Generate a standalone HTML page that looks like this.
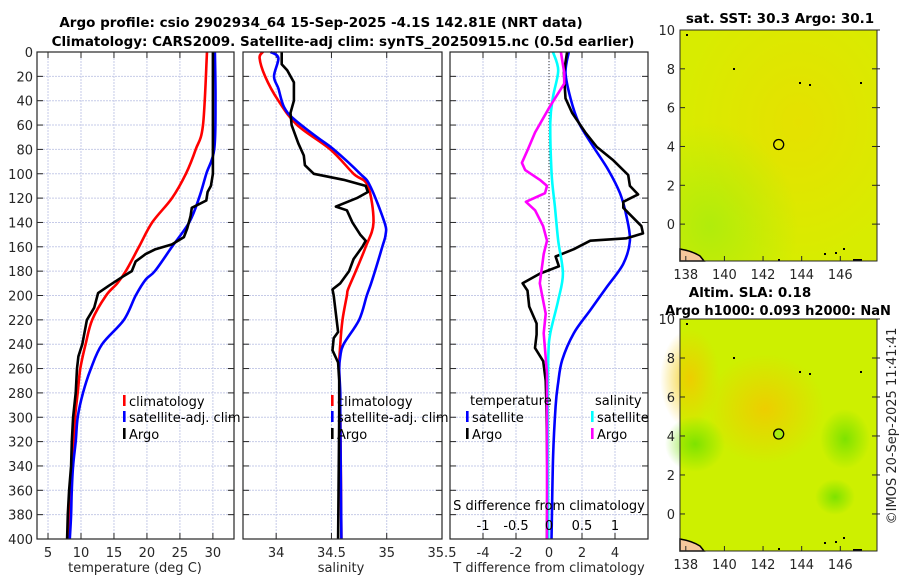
<!DOCTYPE html>
<html><head><meta charset="utf-8"><style>
html,body{margin:0;padding:0;background:#fff;width:900px;height:580px;overflow:hidden}
svg{display:block;font-family:"DejaVu Sans","Liberation Sans",sans-serif}
</style></head><body>
<svg id="fig" width="900" height="580" viewBox="0 0 900 580">
<defs>
<radialGradient id="sstOr" cx="0.6" cy="0.4" r="0.6"><stop offset="0" stop-color="#f0d800" stop-opacity="0.55"/><stop offset="1" stop-color="#f0d800" stop-opacity="0"/></radialGradient>
<radialGradient id="sstGr" cx="0.15" cy="0.85" r="0.45"><stop offset="0" stop-color="#a0ec10" stop-opacity="0.7"/><stop offset="1" stop-color="#a0ec10" stop-opacity="0"/></radialGradient>
<radialGradient id="slaOr" cx="0.5" cy="0.5" r="0.5"><stop offset="0" stop-color="#f2c800" stop-opacity="0.85"/><stop offset="1" stop-color="#f2c800" stop-opacity="0"/></radialGradient>
<radialGradient id="slaGr" cx="0.5" cy="0.5" r="0.5"><stop offset="0" stop-color="#70e000" stop-opacity="0.85"/><stop offset="1" stop-color="#70e000" stop-opacity="0"/></radialGradient>
</defs>
</svg>
<script>
// ---- data: depth in m ----
const tClimDepth=[0,60,80,100,120,140,160,180,190,200,220,240,260,280,300,320,340,360,380,400];
const tClimVal=[29.1,28.5,27.4,25.9,23.8,20.8,18.8,16.8,15.5,13.8,11.7,10.7,9.9,9.5,9.1,8.9,8.6,8.5,8.3,8.2];
const tSatDepth=[0,40,80,100,120,140,160,180,187,200,220,240,260,280,300,320,340,360,380,400];
const tSatVal=[30.3,30.4,30.2,29.0,27.9,26.4,23.8,21.2,19.8,18.3,16.5,13.2,11.5,10.3,9.5,9.2,8.8,8.6,8.5,8.3];
const tArgoDepth=[0,80,100,110,115,122,128,135,145,152,158,162,166,172,180,185,192,198,210,220,240,250,260,280,300,320,340,360,380,400];
const tArgoVal=[30,30,30,29.7,29.2,29,26.8,26.6,26.1,25.6,23.8,21.3,19.8,18.3,17.7,16.2,14.2,12.6,12.0,10.9,10.2,9.6,9.4,9.2,8.8,8.6,8.5,8.2,8.0,7.9];
const sClimDepth=[0,5,20,40,60,80,100,110,140,160,180,195,200,220,240,260,300,400];
const sClimVal=[33.88,33.85,33.9,34.02,34.19,34.49,34.70,34.83,34.88,34.81,34.72,34.65,34.64,34.6,34.58,34.57,34.58,34.59];
const sSatDepth=[0,5,20,30,45,55,70,80,100,110,140,150,160,187,200,220,240,250,260,280,300,400];
const sSatVal=[33.95,34.02,33.98,34.02,34.07,34.16,34.37,34.52,34.76,34.85,34.98,34.99,34.96,34.87,34.82,34.75,34.61,34.58,34.57,34.58,34.58,34.59];
const sArgoDepth=[0,10,15,25,40,50,60,75,85,93,100,105,110,115,120,127,130,140,150,155,160,170,180,190,195,200,215,230,235,245,255,270,300,400];
const sArgoVal=[34.05,34.05,34.1,34.16,34.16,34.13,34.14,34.2,34.25,34.26,34.34,34.61,34.81,34.83,34.73,34.54,34.64,34.69,34.76,34.81,34.78,34.7,34.66,34.58,34.51,34.52,34.54,34.56,34.52,34.51,34.56,34.57,34.57,34.56];
const dTSatDepth=[0,17,38,58,78,97,116,135,155,174,193,212,231,253,272,291,332,400];
const dTSatVal=[1.2,1.0,1.3,1.8,2.7,3.6,4.3,4.7,4.9,4.5,3.5,2.5,1.5,0.8,0.55,0.4,0.25,0.15];
const dTArgoDepth=[0,17,38,50,66,78,89,101,110,117,123,128,143,149,153,155,162,168,176,182,190,196,209,223,232,243,254,270,292,347,400];
const dTArgoVal=[1.1,0.9,1.0,1.4,2.2,2.9,3.9,4.8,4.9,5.4,4.5,4.5,5.6,5.7,4.7,2.5,1.5,0.4,0.6,-0.55,-1.6,-1.3,-1.2,-0.75,-0.75,-0.85,-0.35,-0.2,-0.15,-0.1,-0.12];
const dSSatDepth=[0,15,37,58,100,127,155,182,204,231,250,300,400];
const dSSatVal=[0.06,0.14,0.06,0.02,0.04,0.09,0.14,0.21,0.14,0.02,-0.01,-0.02,-0.01];
const dSArgoDepth=[0,17,26,45,66,80,91,97,105,110,116,123,130,143,155,166,190,215,231,264,400];
const dSArgoVal=[0.18,0.23,0.23,0.01,-0.21,-0.32,-0.41,-0.36,-0.14,-0.03,-0.06,-0.35,-0.21,-0.09,-0.03,-0.08,-0.14,-0.05,-0.08,-0.03,-0.03];
const depthTicks=[0,20,40,60,80,100,120,140,160,180,200,220,240,260,280,300,320,340,360,380,400];
const tTicks=[5,10,15,20,25,30];
const sTicks=[34,34.5,35,35.5];
const sTickLabels=["34","34.5","35","35.5"];
const dTTicks=[-4,-2,0,2,4];
const dSTicks=[-1,-0.5,0,0.5,1];
const dSTickLabels=["-1","-0.5","0","0.5","1"];
const lonTicks=[138,140,142,144,146];
const latTicks=[10,8,6,4,2,0];

const NS="http://www.w3.org/2000/svg";
const svg=document.getElementById('fig');
function el(tag,attrs,parent){const e=document.createElementNS(NS,tag);for(const k in attrs)e.setAttribute(k,attrs[k]);(parent||svg).appendChild(e);return e;}
function txt(s,x,y,attrs,parent){const e=el('text',Object.assign({x:x,y:y,'font-size':13,fill:'#262626'},attrs||{}),parent);e.textContent=s;return e;}

const Y0=52,Y1=539;
const yD=d=>Y0+(Y1-Y0)*d/400;
function lin(d0,d1,p0,p1){return v=>p0+(v-d0)*(p1-p0)/(d1-d0);}
const P1={x0:37,x1:234,f:lin(3.33,33.2,37,234)};
const P2={x0:243,x1:442,f:lin(33.7,35.5,243,442)};
const P3={x0:450,x1:648,fT:lin(-6,6,450,648),fS:lin(-1.5,1.5,450,648)};

function panel(P,name,ticks,fx,labels){
  const g=el('g',{});
  
  
  depthTicks.forEach(d=>{el('line',{x1:P.x0,x2:P.x1,y1:yD(d),y2:yD(d),stroke:'#c6cbe8','stroke-width':1,'stroke-dasharray':'2,1'},g);
    el('line',{x1:P.x0,x2:P.x0+6,y1:yD(d),y2:yD(d),stroke:'#262626'},g);
    el('line',{x1:P.x1-6,x2:P.x1,y1:yD(d),y2:yD(d),stroke:'#262626'},g);});
  ticks.forEach((t,i)=>{const x=fx(t);
    el('line',{x1:x,x2:x,y1:Y0,y2:Y1,stroke:'#c6cbe8','stroke-width':1,'stroke-dasharray':'2,1'},g);
    el('line',{x1:x,x2:x,y1:Y1-6,y2:Y1,stroke:'#262626'},g);
    el('line',{x1:x,x2:x,y1:Y0,y2:Y0+6,stroke:'#262626'},g);
    if(labels){const l=txt(labels[i],x,Y1+18,{'text-anchor':'middle'},g);
      
      }});
  return g;
}
function line(dep,val,fx,color,name,parent,smooth){
  const P=dep.map((d,i)=>[fx(val[i]),yD(d)]);
  let d='M'+P[0][0].toFixed(1)+','+P[0][1].toFixed(1);
  if(smooth){
    for(let i=0;i<P.length-1;i++){
      const p0=P[Math.max(0,i-1)],p1=P[i],p2=P[i+1],p3=P[Math.min(P.length-1,i+2)];
      const c1=[p1[0]+(p2[0]-p0[0])/6,p1[1]+(p2[1]-p0[1])/6];
      const c2=[p2[0]-(p3[0]-p1[0])/6,p2[1]-(p3[1]-p1[1])/6];
      d+=' C'+c1.map(v=>v.toFixed(1)).join(',')+' '+c2.map(v=>v.toFixed(1)).join(',')+' '+p2.map(v=>v.toFixed(1)).join(',');
    }
  } else {for(let i=1;i<P.length;i++)d+=' L'+P[i][0].toFixed(1)+','+P[i][1].toFixed(1);}
  const p=el('path',{d:d,fill:'none',stroke:color,'stroke-width':2.6,'stroke-linejoin':'round'},parent);
  
  
  return p;
}
function frame(P){el('rect',{x:P.x0,y:Y0,width:P.x1-P.x0,height:Y1-Y0,fill:'none',stroke:'#262626','stroke-width':1.2});}

// titles
let t1=txt('Argo profile: csio 2902934_64 15-Sep-2025 -4.1S 142.81E (NRT data)',321,27,{'text-anchor':'middle','font-weight':'bold','font-size':13.5,fill:'#000'});


let t2=txt('Climatology: CARS2009. Satellite-adj clim: synTS_20250915.nc (0.5d earlier)',343,46,{'text-anchor':'middle','font-weight':'bold','font-size':13.5,fill:'#000'});



// panel 1
const g1=panel(P1,'temperature-panel',tTicks,P1.f,tTicks.map(String));
depthTicks.forEach(d=>{const l=txt(String(d),33,yD(d)+5,{'text-anchor':'end'});
  
  });
line(tClimDepth,tClimVal,P1.f,'#ff0000','temp-climatology-line',g1,true);
line(tSatDepth,tSatVal,P1.f,'#0000ff','temp-satellite-line',g1,true);
line(tArgoDepth,tArgoVal,P1.f,'#000000','temp-argo-line',g1,false);
frame(P1);
let xl1=txt('temperature (deg C)',135,572,{'text-anchor':'middle'});



// panel 2
const g2=panel(P2,'salinity-panel',sTicks,P2.f,sTickLabels);
line(sClimDepth,sClimVal,P2.f,'#ff0000','sal-climatology-line',g2,true);
line(sSatDepth,sSatVal,P2.f,'#0000ff','sal-satellite-line',g2,true);
line(sArgoDepth,sArgoVal,P2.f,'#000000','sal-argo-line',g2,false);
frame(P2);
let xl2=txt('salinity',341,572,{'text-anchor':'middle'});



// panel 3
const g3=panel(P3,'difference-panel',dTTicks,P3.fT,dTTicks.map(String));
el('line',{x1:P3.fT(0),x2:P3.fT(0),y1:Y0,y2:Y1,stroke:'#333','stroke-dasharray':'1,2'},g3);
line(dTSatDepth,dTSatVal,P3.fT,'#0000ff','tdiff-satellite-line',g3,true);
line(dTArgoDepth,dTArgoVal,P3.fT,'#000000','tdiff-argo-line',g3,false);
line(dSSatDepth,dSSatVal,P3.fS,'#00ffff','sdiff-satellite-line',g3,true);
line(dSArgoDepth,dSArgoVal,P3.fS,'#ff00ff','sdiff-argo-line',g3,false);
frame(P3);
let sl=txt('S difference from climatology',549,510,{'text-anchor':'middle','fill':'#000'});


dSTicks.forEach((v,i)=>{const l=txt(dSTickLabels[i],P3.fS(v),530,{'text-anchor':'middle','fill':'#000'});
  
  });
let xl3=txt('T difference from climatology',549,572,{'text-anchor':'middle'});



// legends
function legItem(x,y,color,label,name){
  const g=el('g',{});
  
  
  el('rect',{x:x,y:y-6,width:2.6,height:11,fill:color},g);
  txt(label,x+6,y+5,{fill:'#000'},g);
}
[[123,'p1'],[331,'p2']].forEach(([x,p])=>{
  legItem(x,401,'#ff0000','climatology','legend-climatology-'+p);
  legItem(x,417,'#0000ff','satellite-adj. clim','legend-satellite-'+p);
  legItem(x,434,'#000000','Argo','legend-argo-'+p);
});
let lt=txt('temperature',470,405,{fill:'#000'});


let ls=txt('salinity',595,405,{fill:'#000'});


legItem(466,417,'#0000ff','satellite','legend-tdiff-satellite');
legItem(466,434,'#000000','Argo','legend-tdiff-argo');
legItem(591,417,'#00ffff','satellite','legend-sdiff-satellite');
legItem(591,434,'#ff00ff','Argo','legend-sdiff-argo');

// maps
function map(top,bottom,name,base,extras,circleFill){
  const x0=680,x1=877;
  const off=top-30;
  const fLon=lin(137.7,147.9,x0,x1);
  const fLat=lin(10,0,top,top+(bottom-top)*10/11.9);
  const g=el('g',{});
  
  
  el('rect',{x:x0,y:top,width:x1-x0,height:bottom-top,fill:base},g);
  extras(g,x0,top,x1-x0,bottom-top);
  el('path',{d:`M${x0},${bottom-12} Q${x0+12},${bottom-10} ${x0+20},${bottom-5} L${x0+24},${bottom} L${x0},${bottom}Z`,fill:'#f6c79c',stroke:'#000','stroke-width':1.5},g);
  el('rect',{x:x1-24,y:bottom-2,width:9,height:2,fill:'#000'},g);
  [[686,34],[733,68],[799,82],[809,84],[860,82],[843,248],[835,252],[824,253],[778,259]].forEach(p=>el('rect',{x:p[0],y:p[1]+off,width:2,height:2,fill:'#000'},g));
  el('rect',{x:x0,y:top,width:x1-x0,height:bottom-top,fill:'none',stroke:'#262626','stroke-width':1},g);
  lonTicks.forEach(v=>{const x=fLon(v);el('line',{x1:x,x2:x,y1:bottom,y2:bottom-5,stroke:'#262626'},g);
    const l=txt(String(v),x,bottom+18,{'text-anchor':'middle'},g);
    
    });
  latTicks.forEach(v=>{const y=fLat(v);el('line',{x1:x0,x2:x0+5,y1:y,y2:y,stroke:'#262626'},g);
    el('line',{x1:x1-5,x2:x1+3,y1:y,y2:y,stroke:'#262626'},g);
    const l=txt(String(v),675,y+5,{'text-anchor':'end'},g);
    
    });
  const c=el('circle',{cx:fLon(142.81),cy:fLat(4.1),r:5,fill:circleFill,stroke:'#000','stroke-width':1.3},g);
  
  
}
map(30,261,'sst-map','#d8ec00',(g,x,y,w,h)=>{
  el('rect',{x:x,y:y,width:w,height:h,fill:'url(#sstOr)'},g);
  el('rect',{x:x,y:y,width:w,height:h,fill:'url(#sstGr)'},g);
},'none');
map(319,551,'sla-map','#cdf000',(g,x,y,w,h)=>{
  el('ellipse',{cx:x+85,cy:y+90,rx:60,ry:55,fill:'url(#slaOr)'},g);
  el('ellipse',{cx:x+10,cy:y+60,rx:30,ry:50,fill:'url(#slaOr)'},g);
  el('ellipse',{cx:x+15,cy:y+125,rx:30,ry:28,fill:'url(#slaGr)'},g);
  el('ellipse',{cx:x+165,cy:y+120,rx:25,ry:30,fill:'url(#slaGr)'},g);
  el('ellipse',{cx:x+155,cy:y+178,rx:20,ry:18,fill:'url(#slaGr)'},g);
},'#a8ec10');
let mt1=txt('sat. SST: 30.3 Argo: 30.1',780,23,{'text-anchor':'middle','font-weight':'bold','font-size':13.5,fill:'#000'});


let mt2=txt('Altim. SLA: 0.18',750,297,{'text-anchor':'middle','font-weight':'bold','font-size':13.5,fill:'#000'});


let mt3=txt('Argo h1000: 0.093 h2000: NaN',778,315,{'text-anchor':'middle','font-weight':'bold','font-size':13,fill:'#000'});


let ts=txt('©IMOS 20-Sep-2025 11:41:41',0,0,{'text-anchor':'middle',transform:'translate(896,426) rotate(-90)'});


</script>
</body></html>
